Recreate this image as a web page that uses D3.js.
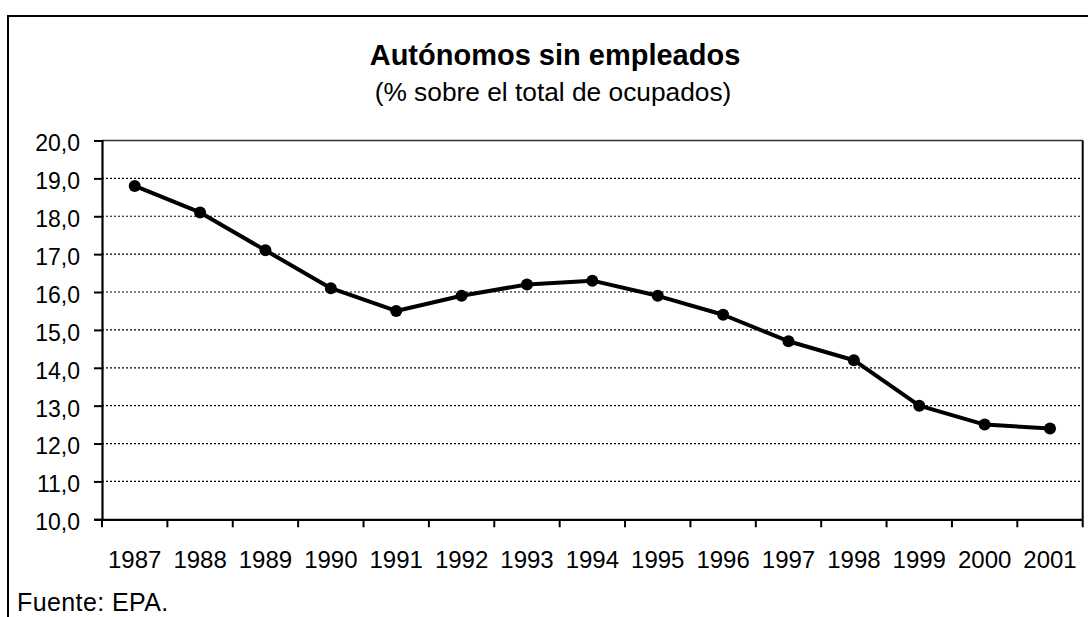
<!DOCTYPE html>
<html>
<head>
<meta charset="utf-8">
<script src="https://cdn.jsdelivr.net/npm/d3@7"></script>
<style>
  body { margin: 0; background: #fff; }
  svg text { font-family: "Liberation Sans", Arial, sans-serif; fill: #000; }
</style>
</head>
<body>
<script>
// Data
var years = ['1987','1988','1989','1990','1991','1992','1993','1994','1995','1996','1997','1998','1999','2000','2001'];
var values = [18.8, 18.1, 17.1, 16.1, 15.5, 15.9, 16.2, 16.3, 15.9, 15.4, 14.7, 14.2, 13.0, 12.5, 12.4];
var yTicks = [10, 11, 12, 13, 14, 15, 16, 17, 18, 19, 20];

// Plot boundaries
var margin = {top: 140.5, right: 5.3, bottom: 97.7, left: 102},
    W = 1088, H = 617,
    width = W - margin.left - margin.right,
    height = H - margin.top - margin.bottom;

var xScale = d3.scaleBand().domain(years).range([0, width]).padding(0),
    yScale = d3.scaleLinear().domain([10, 20]).range([height, 0]);

var root = d3.select('body').append('svg')
    .attr('width', W)
    .attr('height', H);

// Outer frame (runs off the right and bottom edges)
root.append('rect')
    .attr('x', 8).attr('y', 16)
    .attr('width', 1100).attr('height', 620)
    .attr('fill', 'none')
    .attr('stroke', '#000')
    .attr('stroke-width', 2);

// Titles
root.append('text')
    .text('Autónomos sin empleados')
    .attr('x', 555).attr('y', 65)
    .attr('text-anchor', 'middle')
    .style('font-size', '29px')
    .style('font-weight', 'bold');

root.append('text')
    .text('(% sobre el total de ocupados)')
    .attr('x', 553).attr('y', 101)
    .attr('text-anchor', 'middle')
    .style('font-size', '26.3px');

root.append('text')
    .text('Fuente: EPA.')
    .attr('x', 17).attr('y', 611)
    .style('font-size', '25px')
    .style('letter-spacing', '0.4px');

var svg = root.append('g')
    .attr('transform', 'translate(' + margin.left + ',' + margin.top + ')');

// Dotted gridlines
svg.append('g')
    .selectAll('line')
    .data(yTicks.filter(function(d) { return d > 10; }))
    .join('line')
    .attr('x1', 0).attr('x2', width)
    .attr('y1', function(d) { return yScale(d); })
    .attr('y2', function(d) { return yScale(d); })
    .attr('stroke', '#000')
    .attr('stroke-width', 1.2)
    .attr('stroke-dasharray', '2,2');

// Plot frame top / right
svg.append('line')
    .attr('x1', 0).attr('x2', width)
    .attr('y1', 0).attr('y2', 0)
    .attr('stroke', '#333').attr('stroke-width', 1.5);
svg.append('line')
    .attr('x1', width).attr('x2', width)
    .attr('y1', 0).attr('y2', height)
    .attr('stroke', '#000').attr('stroke-width', 2);

// Y-axis
var yAxis = svg.append('g')
    .call(d3.axisLeft(yScale)
        .tickValues(yTicks)
        .tickSize(8)
        .tickPadding(14)
        .tickFormat(function(d) { return d3.format('.1f')(d).replace('.', ','); }));
yAxis.select('.domain').attr('stroke-width', 2.2);
yAxis.selectAll('.tick line').attr('stroke-width', 2);
yAxis.selectAll('.tick text')
    .style('font-size', '23px')
    .attr('dy', '0.45em');

// X-axis: labels at band centres, ticks at band boundaries
var xAxis = svg.append('g')
    .attr('transform', 'translate(0,' + height + ')')
    .call(d3.axisBottom(xScale).tickSize(0).tickPadding(32));
xAxis.select('.domain').attr('stroke-width', 2.2);
xAxis.selectAll('.tick text')
    .style('font-size', '24px');

xAxis.selectAll('.bound')
    .data(years.concat(['end']))
    .join('line')
    .attr('class', 'bound')
    .attr('x1', function(d, i) { return i * xScale.step(); })
    .attr('x2', function(d, i) { return i * xScale.step(); })
    .attr('y1', 0).attr('y2', 8)
    .attr('stroke', '#000')
    .attr('stroke-width', 2);

// Series line
var drawLine = d3.line()
    .x(function(d, i) { return xScale(years[i]) + xScale.bandwidth() / 2; })
    .y(function(d) { return yScale(d); });

svg.append('path')
    .attr('d', drawLine(values))
    .attr('fill', 'none')
    .attr('stroke', '#000')
    .attr('stroke-width', 4)
    .attr('stroke-linejoin', 'round');

svg.append('g')
    .selectAll('circle')
    .data(values)
    .join('circle')
    .attr('cx', function(d, i) { return xScale(years[i]) + xScale.bandwidth() / 2; })
    .attr('cy', function(d) { return yScale(d); })
    .attr('r', 6)
    .attr('fill', '#000');
</script>
</body>
</html>
